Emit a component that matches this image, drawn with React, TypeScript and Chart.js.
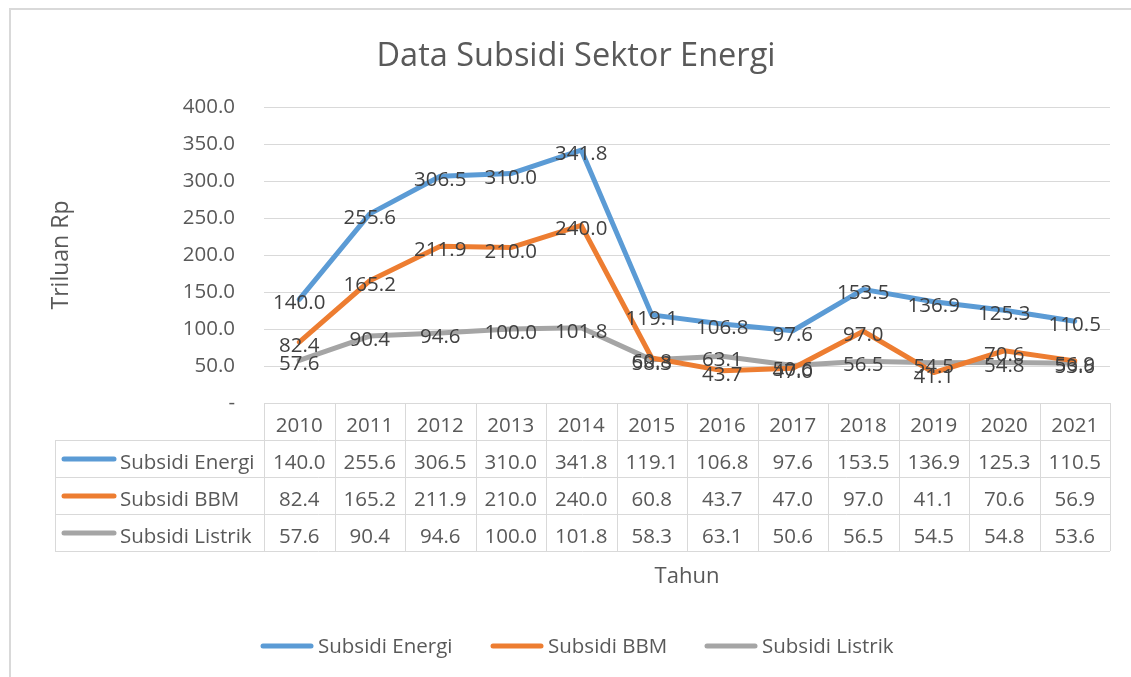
import React, { useEffect, useRef } from "react";
import { Chart, registerables } from "chart.js";

Chart.register(...registerables);

const years = ["2010", "2011", "2012", "2013", "2014", "2015", "2016", "2017", "2018", "2019", "2020", "2021"];
const subsidiEnergi = [140.0, 255.6, 306.5, 310.0, 341.8, 119.1, 106.8, 97.6, 153.5, 136.9, 125.3, 110.5];
const subsidiBBM = [82.4, 165.2, 211.9, 210.0, 240.0, 60.8, 43.7, 47.0, 97.0, 41.1, 70.6, 56.9];
const subsidiListrik = [57.6, 90.4, 94.6, 100.0, 101.8, 58.3, 63.1, 50.6, 56.5, 54.5, 54.8, 53.6];
const seriesNames = ["Subsidi Energi", "Subsidi BBM", "Subsidi Listrik"];
const seriesColors = ["#5B9BD5", "#ED7D31", "#A5A5A5"];
const titleText = "Data Subsidi Sektor Energi";
const yTitle = "Triluan Rp";
const xTitle = "Tahun";

const FONT = "'Open Sans', Lato, sans-serif";
const TEXT = "#595959";
const LABEL = "#404040";
const LINE = "#D9D9D9";
const FS = 20.5;

const fmt = (v: number) => v.toFixed(1);

const decorPlugin = {
  id: "decor",
  afterDatasetsDraw(chart: any) {
    const ctx = chart.ctx as CanvasRenderingContext2D;
    ctx.save();
    ctx.font = `${FS}px ${FONT}`;
    ctx.fillStyle = LABEL;
    ctx.textAlign = "center";
    ctx.textBaseline = "alphabetic";
    chart.data.datasets.forEach((ds: any, di: number) => {
      const meta = chart.getDatasetMeta(di);
      meta.data.forEach((pt: any, i: number) => {
        ctx.fillText(fmt(ds.data[i]), pt.x, pt.y + 10);
      });
    });
    ctx.restore();
  },
  afterDraw(chart: any) {
    const ctx = chart.ctx as CanvasRenderingContext2D;
    const area = chart.chartArea;
    const xs = chart.scales.x;
    const n = years.length;
    const colW = (area.right - area.left) / n;
    const rowH = 37;
    const top = area.bottom;
    const tableLeft = 55;
    const rows = 3;
    const tableBottom = top + rowH * (rows + 1);

    ctx.save();
    // outer chart border
    ctx.strokeStyle = LINE;
    ctx.lineWidth = 2;
    ctx.beginPath();
    ctx.moveTo(10, 700);
    ctx.lineTo(10, 9);
    ctx.lineTo(1140, 9);
    ctx.stroke();

    // table lines
    ctx.lineWidth = 1;
    ctx.strokeStyle = LINE;
    ctx.beginPath();
    ctx.moveTo(area.left, top + 0.5);
    ctx.lineTo(area.right, top + 0.5);
    for (let r = 1; r <= rows + 1; r++) {
      const y = Math.round(top + r * rowH) + 0.5;
      ctx.moveTo(tableLeft, y);
      ctx.lineTo(area.right, y);
    }
    for (let c = 0; c <= n; c++) {
      const x = Math.round(area.left + c * colW) + 0.5;
      ctx.moveTo(x, top);
      ctx.lineTo(x, tableBottom);
    }
    ctx.moveTo(tableLeft + 0.5, top + rowH);
    ctx.lineTo(tableLeft + 0.5, tableBottom);
    ctx.stroke();

    // table text
    ctx.font = `${FS}px ${FONT}`;
    ctx.fillStyle = TEXT;
    ctx.textAlign = "center";
    ctx.textBaseline = "alphabetic";
    years.forEach((y, i) => {
      ctx.fillText(y, xs.getPixelForValue(i), top + 29);
    });
    const allSeries = [subsidiEnergi, subsidiBBM, subsidiListrik];
    allSeries.forEach((s, r) => {
      const rowTop = top + rowH * (r + 1);
      const base = rowTop + 29;
      s.forEach((v, i) => {
        ctx.fillText(fmt(v), xs.getPixelForValue(i), base);
      });
      ctx.strokeStyle = seriesColors[r];
      ctx.lineWidth = 5;
      ctx.lineCap = "round";
      ctx.beginPath();
      ctx.moveTo(64, rowTop + 19);
      ctx.lineTo(114, rowTop + 19);
      ctx.stroke();
      ctx.textAlign = "left";
      ctx.fillStyle = TEXT;
      ctx.fillText(seriesNames[r], 120, base);
      ctx.textAlign = "center";
    });

    // title
    ctx.font = `32.5px ${FONT}`;
    ctx.fillStyle = TEXT;
    ctx.textAlign = "center";
    ctx.fillText(titleText, 576, 66);

    // axis titles
    ctx.font = `22px ${FONT}`;
    ctx.fillText(xTitle, (area.left + area.right) / 2, 583);
    ctx.save();
    ctx.translate(68, 255);
    ctx.rotate(-Math.PI / 2);
    ctx.font = `23px ${FONT}`;
    ctx.fillText(yTitle, 0, 0);
    ctx.restore();

    // legend
    const legendX = [263, 493, 707];
    ctx.font = `${FS}px ${FONT}`;
    seriesNames.forEach((name, i) => {
      const ly = 646;
      ctx.strokeStyle = seriesColors[i];
      ctx.lineWidth = 5;
      ctx.lineCap = "round";
      ctx.beginPath();
      ctx.moveTo(legendX[i], ly);
      ctx.lineTo(legendX[i] + 48, ly);
      ctx.stroke();
      ctx.fillStyle = TEXT;
      ctx.textAlign = "left";
      ctx.fillText(name, legendX[i] + 55, ly + 7);
    });
    ctx.restore();
  },
};

export default function App() {
  const ref = useRef<HTMLCanvasElement | null>(null);
  useEffect(() => {
    if (!ref.current) return;
    const chart = new Chart(ref.current, {
      type: "line",
      data: {
        labels: years,
        datasets: [subsidiEnergi, subsidiBBM, subsidiListrik].map((d, i) => ({
          label: seriesNames[i],
          data: d,
          borderColor: seriesColors[i],
          backgroundColor: seriesColors[i],
          borderWidth: 5,
          pointRadius: 0,
          tension: 0,
          borderCapStyle: "round" as const,
          borderJoinStyle: "round" as const,
        })),
      },
      options: {
        animation: false,
        responsive: false,
        maintainAspectRatio: false,
        layout: { padding: { left: 10, right: 21, top: 107, bottom: 274 } },
        plugins: {
          legend: { display: false },
          title: { display: false },
          tooltip: { enabled: false },
        },
        scales: {
          x: {
            type: "category",
            display: false,
            offset: true,
          },
          y: {
            min: 0,
            max: 400,
            afterFit: (s: any) => {
              s.width = 254;
            },
            border: { display: false },
            grid: { color: LINE, lineWidth: 1, drawTicks: false },
            ticks: {
              stepSize: 50,
              padding: 29,
              color: TEXT,
              font: { family: FONT, size: FS },
              callback: (v: any) => (Number(v) === 0 ? "-" : Number(v).toFixed(1)),
            },
          },
        },
      },
      plugins: [decorPlugin],
    });
    return () => chart.destroy();
  }, []);
  return (
    <div style={{ position: "fixed", left: 0, top: 0, width: 1131, height: 677, background: "#fff" }}>
      <canvas ref={ref} width={1131} height={677} style={{ width: 1131, height: 677 }} />
    </div>
  );
}
